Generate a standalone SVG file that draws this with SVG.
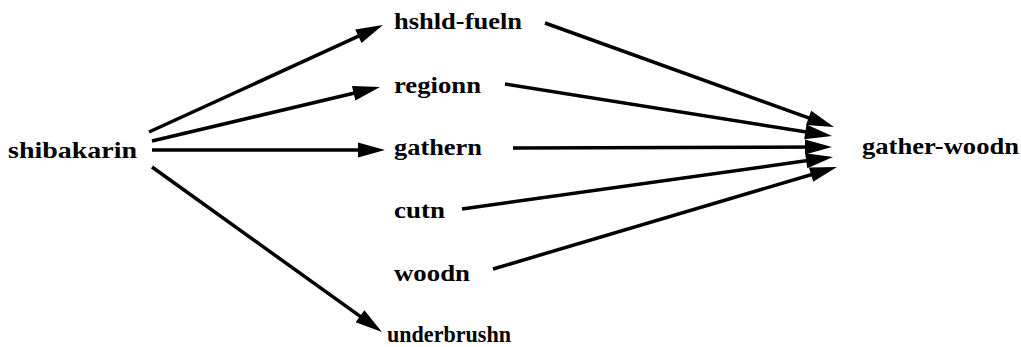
<svg xmlns="http://www.w3.org/2000/svg" width="1021" height="347" viewBox="0 0 1021 347">
  <style>
    .lbl { font-family: "Liberation Serif", "Times New Roman", serif; font-weight: bold; font-size: 23px; fill: #000; }
    .edge { stroke: #000; stroke-width: 3.5; fill: none; marker-end: url(#head); }
  </style>
  <defs>
    <marker id="head" markerUnits="userSpaceOnUse" markerWidth="27" markerHeight="15" refX="14" refY="7.5" orient="auto" overflow="visible">
      <path d="M0,0 L27,7.5 L0,15 Z" fill="#000"/>
    </marker>
  </defs>
  <rect width="1021" height="347" fill="#fff"/>

  <g id="connectors">
    <line class="edge" x1="149" y1="132" x2="371.1" y2="30.4"/>
    <line class="edge" x1="152" y1="141" x2="367.3" y2="90.0"/>
    <line class="edge" x1="152" y1="150" x2="372" y2="150"/>
    <line class="edge" x1="152" y1="167" x2="371.4" y2="324.4"/>
    <line class="edge" x1="545" y1="23" x2="821.8" y2="122.6"/>
    <line class="edge" x1="505" y1="84" x2="819.2" y2="134.0"/>
    <line class="edge" x1="513" y1="148" x2="819" y2="147"/>
    <line class="edge" x1="462" y1="209" x2="820.1" y2="158.8"/>
    <line class="edge" x1="493" y1="269" x2="824.5" y2="170.7"/>
  </g>

  <g id="shibakarin"><text class="lbl" x="8" y="158" textLength="129" lengthAdjust="spacingAndGlyphs">shibakarin</text></g>
  <g id="hshld-fueln"><text class="lbl" x="394" y="29" textLength="128" lengthAdjust="spacingAndGlyphs">hshld-fueln</text></g>
  <g id="regionn"><text class="lbl" x="394" y="93" textLength="87" lengthAdjust="spacingAndGlyphs">regionn</text></g>
  <g id="gathern"><text class="lbl" x="394" y="155" textLength="88" lengthAdjust="spacingAndGlyphs">gathern</text></g>
  <g id="cutn"><text class="lbl" x="394" y="218" textLength="51" lengthAdjust="spacingAndGlyphs">cutn</text></g>
  <g id="woodn"><text class="lbl" x="394" y="281" textLength="76" lengthAdjust="spacingAndGlyphs">woodn</text></g>
  <g id="underbrushn"><text class="lbl" x="387" y="342" textLength="124" lengthAdjust="spacingAndGlyphs">underbrushn</text></g>
  <g id="gather-woodn"><text class="lbl" x="862" y="154" textLength="157" lengthAdjust="spacingAndGlyphs">gather-woodn</text></g>
</svg>
